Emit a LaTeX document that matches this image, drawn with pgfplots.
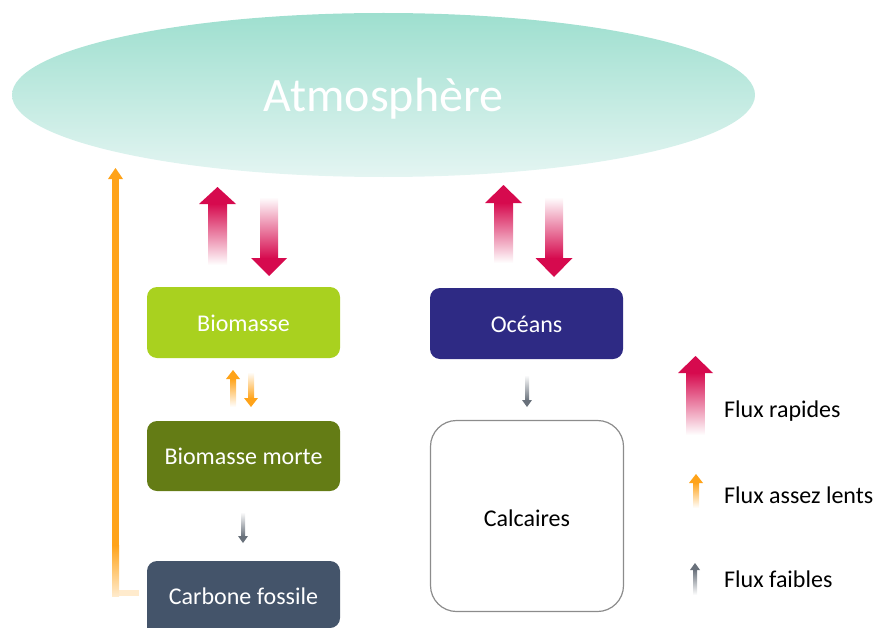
\documentclass[border=0pt]{standalone}
\usepackage{pgfplots}
\pgfplotsset{compat=1.18}
\usepackage{fontspec}
\setmainfont{Carlito}
\definecolor{atmtop}{RGB}{158,223,207}
\definecolor{atmbot}{RGB}{228,245,242}
\definecolor{fluxred}{RGB}{214,10,78}
\definecolor{bioGreen}{RGB}{169,209,31}
\definecolor{oceanBlue}{RGB}{46,42,132}
\definecolor{deadGreen}{RGB}{100,124,21}
\definecolor{fossil}{RGB}{68,84,106}
\definecolor{fluxorange}{RGB}{255,163,25}
\definecolor{fluxgray}{RGB}{105,113,123}
\definecolor{calcborder}{RGB}{140,140,140}
% up arrow: #1 x, #2 tip y, #3 bottom y, #4 head half width, #5 shaft half width, #6 head length, #7 colour
\newcommand{\upArrow}[7]{%
  \shade[top color=#7, bottom color=white] (axis cs:{#1-#5},{#2+#6-0.5}) rectangle (axis cs:{#1+#5},{#3});
  \fill[#7] (axis cs:{#1-#4},{#2+#6}) -- (axis cs:{#1},{#2}) -- (axis cs:{#1+#4},{#2+#6}) -- cycle;
}
% down arrow: #1 x, #2 top y, #3 tip y, #4 head half, #5 shaft half, #6 head length, #7 colour
\newcommand{\downArrow}[7]{%
  \shade[top color=white, bottom color=#7] (axis cs:{#1-#5},{#2}) rectangle (axis cs:{#1+#5},{#3-#6+0.5});
  \fill[#7] (axis cs:{#1-#4},{#3-#6}) -- (axis cs:{#1},{#3}) -- (axis cs:{#1+#4},{#3-#6}) -- cycle;
}
\tikzset{lbl/.style={inner sep=0pt, font=\fontsize{24bp}{28bp}\selectfont}}
\begin{document}
\begin{tikzpicture}
\begin{axis}[
  scale only axis, width=876bp, height=628bp,
  xmin=0, xmax=876, ymin=0, ymax=628, y dir=reverse,
  hide axis, clip=false,
]
% picture frame (invisible) so that the page is the full 876x628 area
\path (axis cs:0,0) rectangle (axis cs:876,628);
% Atmosphere
\shade[top color=atmtop, bottom color=atmbot] (axis cs:383.5,95) ellipse [x radius=371.5bp, y radius=82bp];
\node[text=white, anchor=base, inner sep=0pt, font=\fontsize{48bp}{52bp}\selectfont] at (axis cs:383.5,111) {Atmosphère};

% long orange arrow (fossil -> atmosphere)
\fill[fluxorange!22] (axis cs:112,590) rectangle (axis cs:139,596);
\fill[fluxorange] (axis cs:112,178.5) rectangle (axis cs:119,545.5);
\shade[top color=fluxorange, bottom color=fluxorange!22] (axis cs:112,545) rectangle (axis cs:119,596);
\fill[fluxorange] (axis cs:108,179) -- (axis cs:115.5,168) -- (axis cs:123,179) -- cycle;

% red fast fluxes
\upArrow{217.5}{187}{265}{18.5}{9.5}{17}{fluxred}
\downArrow{269}{197}{276}{18}{9}{18}{fluxred}
\upArrow{503.5}{185}{263}{18.5}{9.5}{18}{fluxred}
\downArrow{554}{197}{277}{18.5}{9}{19}{fluxred}

% boxes
\fill[bioGreen, rounded corners=10bp] (axis cs:147,287) rectangle (axis cs:340,358);
\node[lbl, text=white, anchor=base] at (axis cs:243.5,331) {Biomasse};
\fill[oceanBlue, rounded corners=10bp] (axis cs:430,288) rectangle (axis cs:623,359);
\node[lbl, text=white, anchor=base] at (axis cs:526.5,332) {Océans};
\fill[deadGreen, rounded corners=10bp] (axis cs:147,421) rectangle (axis cs:340,491);
\node[lbl, text=white, anchor=base] at (axis cs:243.5,464) {Biomasse morte};
\fill[fossil, rounded corners=10bp] (axis cs:147,628) -- (axis cs:147,561) -- (axis cs:340,561) -- (axis cs:340,628) [sharp corners] -- cycle;
\node[lbl, text=white, anchor=base] at (axis cs:243.5,604) {Carbone fossile};
\draw[calcborder, line width=1.2bp, fill=white, rounded corners=26bp] (axis cs:430.5,420.5) rectangle (axis cs:623.5,611.5);
\node[lbl, text=black, anchor=base] at (axis cs:527,526) {Calcaires};

% slow orange fluxes
\upArrow{233}{370}{407}{7}{3}{9}{fluxorange}
\downArrow{251}{372}{407}{7}{3}{9}{fluxorange}

% weak gray fluxes
\downArrow{243}{512}{543}{5}{2}{7}{fluxgray}
\downArrow{527}{375}{407}{5}{2}{7}{fluxgray}

% legend
\upArrow{695.5}{356}{435}{17.5}{9}{17}{fluxred}
\node[lbl, anchor=base west, text=black] at (axis cs:724,417) {Flux rapides};
\upArrow{696}{474}{508}{7}{3}{9}{fluxorange}
\node[lbl, anchor=base west, text=black] at (axis cs:724,503) {Flux assez lents};
\upArrow{695}{563}{595}{5}{2}{7}{fluxgray}
\node[lbl, anchor=base west, text=black] at (axis cs:724,587) {Flux faibles};
\end{axis}
\end{tikzpicture}
\end{document}
